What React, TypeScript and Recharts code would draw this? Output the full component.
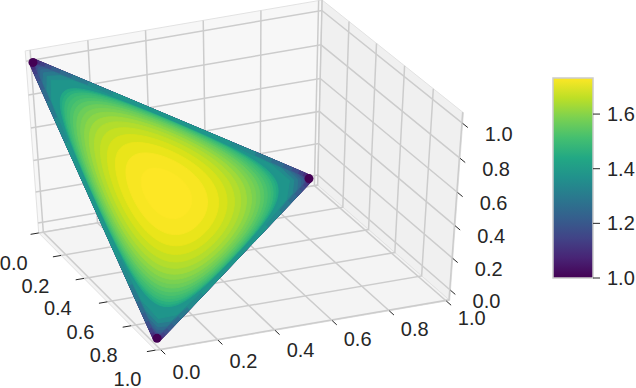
import { Bar, BarChart, Scatter, ScatterChart, XAxis, YAxis } from "recharts"

// axis ticks
const ticks = [0, 0.2, 0.4, 0.6, 0.8, 1]
const tickLabels = ["0.0", "0.2", "0.4", "0.6", "0.8", "1.0"]
const barTicks = [1, 1.2, 1.4, 1.6]

// contour levels of the surface and their colours
const levels = [1.0, 1.06, 1.1, 1.14, 1.18, 1.22, 1.26, 1.3, 1.34, 1.38, 1.42, 1.44, 1.46, 1.48, 1.5, 1.52, 1.54, 1.56, 1.58, 1.6, 1.62, 1.64, 1.66, 1.68, 1.7, 1.72]
const levelColors = ["#440154", "#482071", "#472f7d", "#424086", "#3c508b", "#355f8d", "#2f6c8e", "#297a8e", "#238a8d", "#1f958b", "#22a884", "#2ab07f", "#37b878", "#40bd72", "#4cc26c", "#5ac864", "#6ccd5a", "#7ad151", "#8bd646", "#a0da39", "#b2dd2d", "#c5e021", "#d8e219", "#eae51a", "#f8e622", "#fde725"]
const viridis = ["#440154", "#482475", "#414487", "#355f8d", "#2a788e", "#21918c", "#22a884", "#44bf70", "#7ad151", "#bddf26", "#fde725"]

// each contour as [z, y, x] points on the plane x + y + z = 1
const c100 = [[1, 0, 0], [0, 1, 0], [0, 0, 1]]
const c106 = [[.998, .001, .001], [.996, .004, 0], [.004, .996, 0], [.001, .998, .001], [0, .996, .004], [0, .004, .996], [.001, .001, .998], [.004, 0, .996], [.996, 0, .004]]
const c110 = [[.995, .0025, .0025], [.993, .006, .001], [.989, .011, 0], [.011, .989, 0], [.006, .993, .001], [.0025, .995, .0025], [.001, .993, .006], [0, .989, .011], [0, .011, .989], [.001, .006, .993], [.0025, .0025, .995], [.006, .001, .993], [.011, 0, .989], [.989, 0, .011], [.993, .001, .006]]
const c114 = [[.989, .0055, .0055], [.986, .012, .002], [.977, .023, 0], [.023, .977, 0], [.012, .986, .002], [.0055, .989, .0055], [.002, .986, .012], [0, .977, .023], [0, .023, .977], [.002, .012, .986], [.0055, .0055, .989], [.012, .002, .986], [.023, 0, .977], [.977, 0, .023], [.986, .002, .012]]
const c118 = [[.982, .009, .009], [.976, .022, .002], [.96, .04, 0], [.04, .96, 0], [.022, .976, .002], [.009, .982, .009], [.002, .976, .022], [0, .96, .04], [0, .04, .96], [.002, .022, .976], [.009, .009, .982], [.022, .002, .976], [.04, 0, .96], [.96, 0, .04], [.976, .002, .022]]
const c122 = [[.973, .0135, .0135], [.963, .034, .003], [.936, .064, 0], [.064, .936, 0], [.034, .963, .003], [.0135, .973, .0135], [.003, .963, .034], [0, .936, .064], [0, .064, .936], [.003, .034, .963], [.0135, .0135, .973], [.034, .003, .963], [.064, 0, .936], [.936, 0, .064], [.963, .003, .034]]
const c126 = [[.961, .0195, .0195], [.947, .049, .004], [.905, .095, 0], [.095, .905, 0], [.049, .947, .004], [.0195, .961, .0195], [.004, .947, .049], [0, .905, .095], [0, .095, .905], [.004, .049, .947], [.0195, .0195, .961], [.049, .004, .947], [.095, 0, .905], [.905, 0, .095], [.947, .004, .049]]
const c130 = [[.947, .0265, .0265], [.925, .07, .005], [.862, .138, 0], [.138, .862, 0], [.07, .925, .005], [.0265, .947, .0265], [.005, .925, .07], [0, .862, .138], [0, .138, .862], [.005, .07, .925], [.0265, .0265, .947], [.07, .005, .925], [.138, 0, .862], [.862, 0, .138], [.925, .005, .07]]
const c134 = [[.929, .0355, .0355], [.896, .097, .007], [.803, .197, 0], [.197, .803, 0], [.097, .896, .007], [.0355, .929, .0355], [.007, .896, .097], [0, .803, .197], [0, .197, .803], [.007, .097, .896], [.0355, .0355, .929], [.097, .007, .896], [.197, 0, .803], [.803, 0, .197], [.896, .007, .097]]
const c138 = [[.909, .0455, .0455], [.857, .136, .007], [.713, .287, 0], [.287, .713, 0], [.136, .857, .007], [.0455, .909, .0455], [.007, .857, .136], [0, .713, .287], [0, .287, .713], [.007, .136, .857], [.0455, .0455, .909], [.136, .007, .857], [.287, 0, .713], [.713, 0, .287], [.857, .007, .136]]
const c142 = [[.885, .057, .057], [.771, .224, .005], [.5, .5, 0], [.224, .771, .005], [.057, .885, .057], [.005, .771, .224], [0, .5, .5], [.005, .224, .771], [.057, .057, .885], [.224, .005, .771], [.5, 0, .5], [.771, .005, .224]]
const c144 = [[.872, .064, .064], [.762, .23, .008], [.4995, .4995, .001], [.23, .762, .008], [.064, .872, .064], [.008, .762, .23], [.001, .4995, .4995], [.008, .23, .762], [.064, .064, .872], [.23, .008, .762], [.4995, .001, .4995], [.762, .008, .23]]
const c146 = [[.857, .071, .071], [.752, .237, .011], [.499, .499, .002], [.237, .752, .011], [.071, .857, .071], [.011, .752, .237], [.002, .499, .499], [.011, .237, .752], [.071, .071, .857], [.237, .011, .752], [.499, .002, .499], [.752, .011, .237]]
const c148 = [[.842, .079, .079], [.741, .243, .016], [.4975, .4975, .005], [.243, .741, .016], [.079, .842, .079], [.016, .741, .243], [.005, .4975, .4975], [.016, .243, .741], [.079, .079, .842], [.243, .016, .741], [.4975, .005, .4975], [.741, .016, .243]]
const c150 = [[.825, .088, .088], [.729, .25, .021], [.496, .496, .008], [.25, .729, .021], [.088, .825, .088], [.021, .729, .25], [.008, .496, .496], [.021, .25, .729], [.088, .088, .825], [.25, .021, .729], [.496, .008, .496], [.729, .021, .25]]
const c152 = [[.807, .0965, .0965], [.715, .257, .028], [.4935, .4935, .013], [.257, .715, .028], [.0965, .807, .0965], [.028, .715, .257], [.013, .4935, .4935], [.028, .257, .715], [.0965, .0965, .807], [.257, .028, .715], [.4935, .013, .4935], [.715, .028, .257]]
const c154 = [[.786, .107, .107], [.701, .263, .036], [.49, .49, .02], [.263, .701, .036], [.107, .786, .107], [.036, .701, .263], [.02, .49, .49], [.036, .263, .701], [.107, .107, .786], [.263, .036, .701], [.49, .02, .49], [.701, .036, .263]]
const c156 = [[.765, .1175, .1175], [.684, .27, .046], [.486, .486, .028], [.27, .684, .046], [.1175, .765, .1175], [.046, .684, .27], [.028, .486, .486], [.046, .27, .684], [.1175, .1175, .765], [.27, .046, .684], [.486, .028, .486], [.684, .046, .27]]
const c158 = [[.742, .129, .129], [.667, .277, .056], [.482, .482, .036], [.277, .667, .056], [.129, .742, .129], [.056, .667, .277], [.036, .482, .482], [.056, .277, .667], [.129, .129, .742], [.277, .056, .667], [.482, .036, .482], [.667, .056, .277]]
const c160 = [[.716, .142, .142], [.647, .284, .069], [.476, .476, .048], [.284, .647, .069], [.142, .716, .142], [.069, .647, .284], [.048, .476, .476], [.069, .284, .647], [.142, .142, .716], [.284, .069, .647], [.476, .048, .476], [.647, .069, .284]]
const c162 = [[.687, .156, .156], [.624, .292, .084], [.469, .469, .062], [.292, .624, .084], [.156, .687, .156], [.084, .624, .292], [.062, .469, .469], [.084, .292, .624], [.156, .156, .687], [.292, .084, .624], [.469, .062, .469], [.624, .084, .292]]
const c164 = [[.655, .1725, .1725], [.599, .299, .102], [.46, .46, .08], [.299, .599, .102], [.1725, .655, .1725], [.102, .599, .299], [.08, .46, .46], [.102, .299, .599], [.1725, .1725, .655], [.299, .102, .599], [.46, .08, .46], [.599, .102, .299]]
const c166 = [[.618, .191, .191], [.57, .306, .124], [.449, .449, .102], [.306, .57, .124], [.191, .618, .191], [.124, .57, .306], [.102, .449, .449], [.124, .306, .57], [.191, .191, .618], [.306, .124, .57], [.449, .102, .449], [.57, .124, .306]]
const c168 = [[.576, .212, .212], [.536, .314, .15], [.435, .435, .13], [.314, .536, .15], [.212, .576, .212], [.15, .536, .314], [.13, .435, .435], [.15, .314, .536], [.212, .212, .576], [.314, .15, .536], [.435, .13, .435], [.536, .15, .314]]
const c170 = [[.522, .239, .239], [.493, .321, .186], [.416, .416, .168], [.321, .493, .186], [.239, .522, .239], [.186, .493, .321], [.168, .416, .416], [.186, .321, .493], [.239, .239, .522], [.321, .186, .493], [.416, .168, .416], [.493, .186, .321]]
const c172 = [[.448, .276, .276], [.431, .329, .24], [.386, .386, .228], [.329, .431, .24], [.276, .448, .276], [.24, .431, .329], [.228, .386, .386], [.24, .329, .431], [.276, .276, .448], [.329, .24, .431], [.386, .228, .386], [.431, .24, .329]]
const contours = [c100, c106, c110, c114, c118, c122, c126, c130, c134, c138, c142, c144, c146, c148, c150, c152, c154, c156, c158, c160, c162, c164, c166, c168, c170, c172]

// box limits of the 3d axes
const FLOOR = -0.065
const TOP = 1.06
const X_FAR = 1.005
const Y_NEAR = -0.017
const Y_FAR = 1.012

const GRID = "#cccccc"
const INK = "#262626"
const FONT = "Liberation Sans"

// view of the 3d axes, in page pixels
function project(x: number, y: number, z: number) {
  const w = 1 - 0.05 * x - 0.054 * z
  return {
    x: (42.6 + 109.4 * x + 272 * y - 13.4 * z) / w,
    y: (221 + 101 * x - 47 * y - 166.2 * z) / w,
  }
}

// the surface sits slightly inside the box
const corner = { z: [33, 60], y: [309, 177], x: [157, 338] }
function onSurface(p: number[]) {
  return {
    x: p[0] * corner.z[0] + p[1] * corner.y[0] + p[2] * corner.x[0],
    y: p[0] * corner.z[1] + p[1] * corner.y[1] + p[2] * corner.x[1],
  }
}

// the parts of a contour that run along the triangle's edges
function edgeRuns(c: number[][]) {
  const runs: number[][][] = []
  c.forEach((p, i) => {
    const q = c[(i + 1) % c.length]
    if (p.some((v, k) => v === 0 && q[k] === 0)) runs.push([p, q])
  })
  return runs
}

const noDot = () => <g />

function TickText(props: any) {
  return (
    <text x={props.cx} y={props.cy} textAnchor="middle" dominantBaseline="central" fontFamily={FONT} fontSize={20} fill={INK}>
      {props.payload.label}
    </text>
  )
}

const closed = (pts: { x: number; y: number }[]) => [...pts, pts[0]]

const panes = [
  { fill: "#f7f7f7", pts: [project(0, Y_NEAR, TOP), project(0, Y_FAR, TOP), project(0, Y_FAR, FLOOR), project(0, Y_NEAR, FLOOR)] },
  { fill: "#f0f0f0", pts: [project(0, Y_FAR, TOP), project(X_FAR, Y_FAR, TOP), project(X_FAR, Y_FAR, FLOOR), project(0, Y_FAR, FLOOR)] },
  { fill: "#f4f4f4", pts: [project(0, Y_NEAR, FLOOR), project(0, Y_FAR, FLOOR), project(X_FAR, Y_FAR, FLOOR), project(X_FAR, Y_NEAR, FLOOR)] },
]

const gridLines = ticks.flatMap((t) => [
  [project(t, Y_NEAR, FLOOR), project(t, Y_FAR, FLOOR), project(t, Y_FAR, TOP)],
  [project(X_FAR, t, FLOOR), project(0, t, FLOOR), project(0, t, TOP)],
  [project(0, Y_NEAR, t), project(0, Y_FAR, t), project(X_FAR, Y_FAR, t)],
])

const tickMarks = ticks.flatMap((t) => [
  [project(t, Y_NEAR, FLOOR), project(t, Y_NEAR - 0.03, FLOOR)],
  [project(X_FAR, t, FLOOR), project(X_FAR + 0.035, t, FLOOR)],
  [project(X_FAR, Y_FAR, t), project(X_FAR + 0.035, Y_FAR, t)],
])

const labelData = ticks.flatMap((t, i) => {
  const a = project(t, Y_NEAR, FLOOR)
  const b = project(X_FAR, t, FLOOR)
  const c = project(X_FAR, Y_FAR, t)
  return [
    { x: a.x - 25 - 3 * t, y: a.y + 30.5 - t, label: tickLabels[i] },
    { x: b.x + 25.5, y: b.y + 22 - 5 * t, label: tickLabels[i] },
    { x: c.x + 36, y: c.y + 10.5, label: tickLabels[i] },
  ]
})

const cornerData = c100.map(onSurface)
const barData = [{ name: "level", value: 1.732 }]

export default function App() {
  return (
    <div style={{ position: "absolute", left: 0, top: 0, width: 636, height: 388, background: "#fff" }}>
      <ScatterChart width={636} height={388} margin={{ top: 0, right: 0, bottom: 0, left: 0 }}>
        <XAxis type="number" dataKey="x" domain={[0, 636]} hide />
        <YAxis type="number" dataKey="y" domain={[0, 388]} reversed hide />
        {panes.map((p, i) => (
          <Scatter key={"pane" + i} data={closed(p.pts)} line={{ stroke: "#e2e2e2", strokeWidth: 1, fill: p.fill }} shape={noDot} isAnimationActive={false} />
        ))}
        {gridLines.map((l, i) => (
          <Scatter key={"grid" + i} data={l} line={{ stroke: GRID, strokeWidth: 1.5 }} shape={noDot} isAnimationActive={false} />
        ))}
        {tickMarks.map((l, i) => (
          <Scatter key={"tick" + i} data={l} line={{ stroke: INK, strokeWidth: 1 }} shape={noDot} isAnimationActive={false} />
        ))}
        {contours.flatMap((c, i) => {
          const inner = levels[i] >= 1.42
          return [
            <Scatter
              key={"level" + levels[i]}
              data={inner ? c.map(onSurface) : closed(c.map(onSurface))}
              line={{ stroke: levelColors[i], fill: levelColors[i], strokeWidth: 1, strokeLinejoin: "round" }}
              lineJointType={inner ? "basisClosed" : "linear"}
              shape={noDot}
              isAnimationActive={false}
            />,
            ...edgeRuns(c).map((run, j) => (
              <Scatter
                key={"rim" + levels[i] + "-" + j}
                data={run.map(onSurface)}
                line={{ stroke: levelColors[i], strokeWidth: 8 }}
                shape={noDot}
                isAnimationActive={false}
              />
            )),
          ]
        })}
        <Scatter data={cornerData} shape={(p: any) => <circle cx={p.cx} cy={p.cy} r={4.5} fill={levelColors[0]} />} isAnimationActive={false} />
        <Scatter data={labelData} shape={TickText} isAnimationActive={false} />
      </ScatterChart>
      <div style={{ position: "absolute", left: 543, top: 60 }}>
        <BarChart width={93} height={240} data={barData} margin={{ top: 18, right: 0, bottom: 22, left: 10 }} barCategoryGap={0}>
          <defs>
            <linearGradient id="viridis" x1="0" y1="1" x2="0" y2="0">
              {viridis.map((c, i) => (
                <stop key={c} offset={i / (viridis.length - 1)} stopColor={c} />
              ))}
            </linearGradient>
          </defs>
          <XAxis dataKey="name" hide />
          <YAxis
            orientation="right"
            width={43}
            domain={[1, 1.732]}
            ticks={barTicks}
            tickFormatter={(v: number) => v.toFixed(1)}
            axisLine={false}
            tickSize={7}
            tickMargin={7}
            tickLine={{ stroke: INK }}
            tick={{ fontSize: 20, fontFamily: FONT, fill: INK }}
            interval={0}
          />
          <Bar dataKey="value" fill="url(#viridis)" stroke="#cccccc" strokeWidth={1.5} isAnimationActive={false} />
        </BarChart>
      </div>
    </div>
  )
}
